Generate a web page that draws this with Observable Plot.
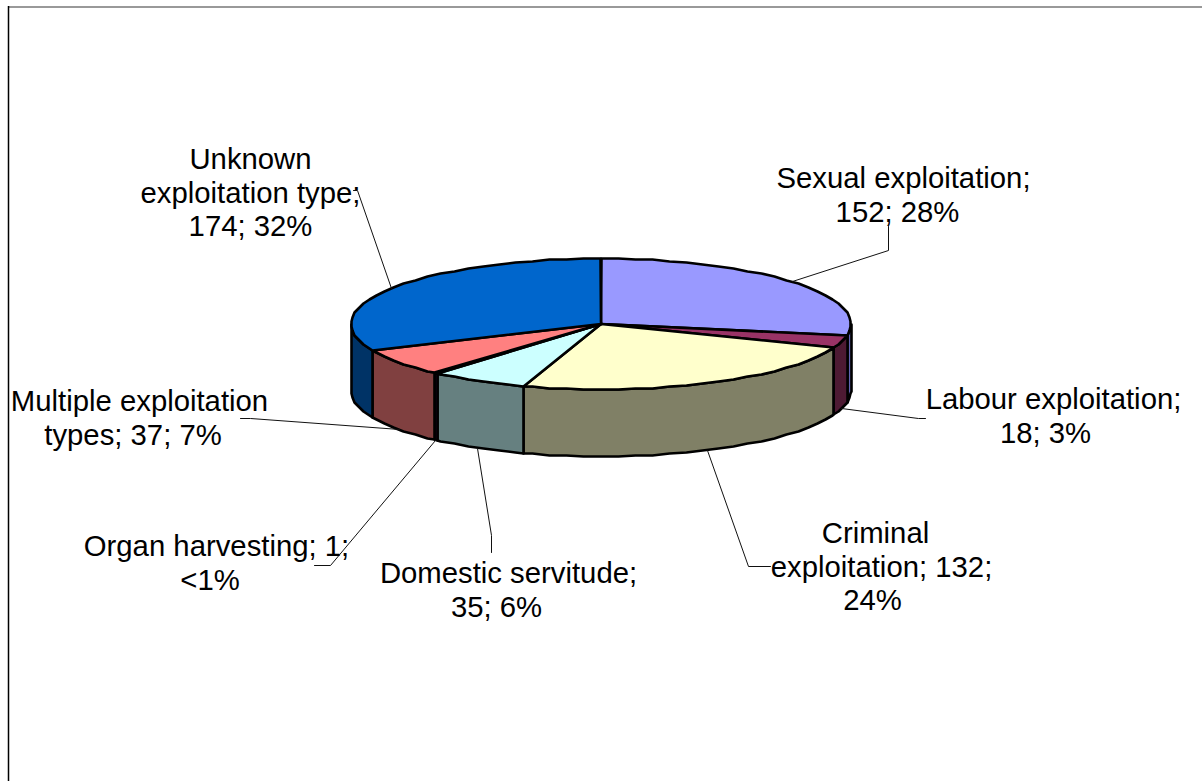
<!DOCTYPE html>
<html><head><meta charset="utf-8">
<script src="https://cdn.jsdelivr.net/npm/d3@7"></script>
<script src="https://cdn.jsdelivr.net/npm/@observablehq/plot@0.6"></script>
<style>html,body{margin:0;padding:0;background:#fff;overflow:hidden}svg{display:block}</style>
</head><body><div id="chart"></div>
<script>
const categories = ["Sexual exploitation","Labour exploitation","Criminal exploitation","Domestic servitude","Organ harvesting","Multiple exploitation types","Unknown exploitation type"];
const values = [152,18,132,35,1,37,174];
const labelLines = ["Sexual exploitation;","152; 28%","Labour exploitation;","18; 3%","Criminal","exploitation; 132;","24%","Domestic servitude;","35; 6%","Organ harvesting; 1;","<1%","Multiple exploitation","types; 37; 7%","Unknown","exploitation type;","174; 32%"];
const topColors = ["#9999FF","#993366","#FFFFCC","#CCFFFF","#660066","#FF8080","#0066CC"];
const sideColors = ["#6464B4","#4D1A33","#808066","#668080","#330033","#804040","#003366"];
// layout: pie geometry and label placement
const cx = 600.5, cy = 323.5, rx = 250, ry = 65.5, depth = 67;
const lineX = [903,897,1053,1045,875,881,872,508,496,216,209.5,139,132.5,250,250,250];
const lineY = [178,212,399,433,533,567,600,573,607,546,580,401,435,159,193,226];
const elbows = [[[888,250],[888,226]],[[918,418],[925,418]],[[748,566],[770,566]],[[491,535],[491,552]],[[330,565],[314,565]],[[250,418],[240,418]],[[357,190],[353,190]]];

const total = d3.sum(values);
const pt = (deg, dz = 0) => { const a = deg*Math.PI/180; return [Math.round(cx+rx*Math.sin(a)), Math.round(cy-ry*Math.cos(a)+dz)]; };
const arc = (a0, a1) => {
  const out = [a0];
  for (let g = Math.ceil(a0/4+1e-6)*4; g < a1; g += 4) out.push(g);
  out.push(a1); return out;
};
let cum = 0;
const wedges = values.map((v,i) => { const a0 = cum/total*360; cum += v; const a1 = cum/total*360; return {i,a0,a1,mid:(a0+a1)/2}; });
const shape = {stroke:"#000", strokeWidth:2.6, strokeLinejoin:"round", curve:"linear-closed"};
const marks = [];
// frame
marks.push(Plot.ruleY([6.5],{x1:8,x2:1202,stroke:"#777",strokeWidth:1.5}));
marks.push(Plot.ruleX([8],{y1:6,y2:781,stroke:"#000",strokeWidth:1.5}));
// side walls, only the front half of the disc
wedges.forEach(w => {
  const a0 = Math.max(w.a0,90), a1 = Math.min(w.a1,270);
  if (a1 <= a0) return;
  const as = arc(a0,a1);
  const poly = [...as.map(a=>pt(a)), ...as.slice().reverse().map(a=>pt(a,depth))];
  marks.push(Plot.line(poly,{...shape,fill:sideColors[w.i]}));
});
// top faces
wedges.forEach(w => {
  const poly = [[cx,cy], ...arc(w.a0,w.a1).map(a=>pt(a))];
  marks.push(Plot.line(poly,{...shape,fill:topColors[w.i]}));
});
// leader lines
wedges.forEach(w => {
  const front = w.mid > 90 && w.mid < 270;
  const path = [pt(w.mid, front ? depth : 0), ...elbows[w.i]];
  marks.push(Plot.line(path,{stroke:"#111",strokeWidth:1,curve:"linear"}));
});
// labels
const rows = labelLines.map((t,i)=>({t,x:lineX[i],y:lineY[i]}));
marks.push(Plot.text(rows,{x:"x",y:"y",text:"t",fontSize:29.3,fill:"#000",textAnchor:"middle",fontFamily:"Liberation Sans"}));
const svg = Plot.plot({width:1202,height:781,margin:0,
  x:{domain:[0,1202],range:[0,1202],axis:null},
  y:{domain:[0,781],range:[0,781],axis:null},
  marks});
document.getElementById("chart").append(svg);
</script></body></html>
